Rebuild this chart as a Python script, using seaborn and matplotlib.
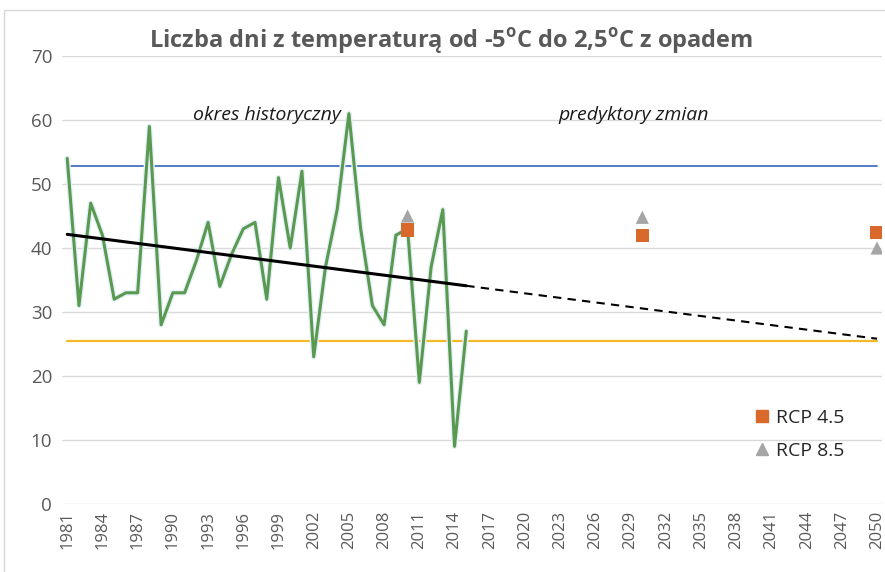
import numpy as np
import pandas as pd
import matplotlib
matplotlib.use("Agg")
import matplotlib.pyplot as plt
import seaborn as sns
from matplotlib.lines import Line2D

# ---- data ----
years_hist = list(range(1981, 2016))
days_hist = [54, 31, 47, 42, 32, 33, 33, 59, 28, 33,
             33, 38, 44, 34, 39, 43, 44, 32, 51, 40,
             52, 23, 37, 46, 61, 43, 31, 28, 42, 43,
             19, 37, 46, 9, 27]
rcp_years = [2010, 2030, 2050]
rcp45 = [42.8, 42.0, 42.4]
rcp85 = [45.0, 44.8, 40.0]
upper_level = 52.8
lower_level = 25.4
tick_years = list(range(1981, 2051, 3))
title = "Liczba dni z temperaturą od -5$^{\\mathregular{o}}$C do 2,5$^{\\mathregular{o}}$C z opadem"

sns.set_theme(style="white")
plt.rcParams['font.family'] = ['Open Sans', 'DejaVu Sans']

fig = plt.figure(figsize=(8.85, 5.72), dpi=100)
ax = fig.add_axes([0.070, 0.119, 0.927, 0.783])

df = pd.DataFrame({"year": years_hist, "days": days_hist})
sns.lineplot(data=df, x="year", y="days", ax=ax, color="#E6F0F8", linewidth=4.2, zorder=3)
sns.lineplot(data=df, x="year", y="days", ax=ax, color="#5A9A50", linewidth=2.2, zorder=4)

# trend line from linear fit
coef = np.polyfit(years_hist, days_hist, 1)
x1 = np.array([years_hist[0], years_hist[-1]])
x2 = np.array([years_hist[-1], 2050])
ax.plot(x1, np.polyval(coef, x1), color="black", lw=2.2, zorder=5)
ax.plot(x2, np.polyval(coef, x2), color="black", lw=1.5, ls=(0, (4, 3)), zorder=5)

ax.plot([1981, 2050], [upper_level, upper_level], color="#4472C4", lw=1.3, zorder=2)
ax.plot([1981, 2050], [lower_level, lower_level], color="#F2BA2A", lw=1.6, zorder=2)

rdf = pd.DataFrame({"year": rcp_years, "r45": rcp45, "r85": rcp85})
sns.scatterplot(data=rdf, x="year", y="r85", ax=ax, marker="^", s=90, color="#A5A5A5",
                edgecolor="none", zorder=6)
sns.scatterplot(data=rdf, x="year", y="r45", ax=ax, marker="s", s=90, color="#D9692A",
                edgecolor="none", zorder=7)

ax.set_xlim(1980.55, 2050.45)
ax.set_ylim(0, 70)
ax.set_yticks(range(0, 71, 10))
ax.set_xticks(tick_years)
ax.set_xticklabels([str(y) for y in tick_years], rotation=90)
ax.tick_params(axis='both', labelsize=12, colors="#595959", length=0, pad=5)
ax.tick_params(axis='y', labelsize=13.5, pad=7)
ax.yaxis.grid(True, color="#D9D9D9", lw=1)
ax.xaxis.grid(False)
for s in ax.spines.values():
    s.set_visible(False)
ax.set_xlabel("")
ax.set_ylabel("")

ax.text(1998.0, 60.8, "okres historyczny", style="italic", fontsize=14, color="#1a1a1a",
        ha="center", va="center")
ax.text(2029.3, 60.8, "predyktory zmian", style="italic", fontsize=14, color="#1a1a1a",
        ha="center", va="center")

fig.text(0.51, 0.928, title, ha="center", va="center", fontsize=17, fontweight="bold",
         color="#595959")

handles = [Line2D([], [], marker="s", ls="none", color="#D9692A", markersize=9),
           Line2D([], [], marker="^", ls="none", color="#A5A5A5", markersize=9)]
ax.legend(handles, ["RCP 4.5", "RCP 8.5"], loc="lower right", bbox_to_anchor=(0.975, 0.06),
          frameon=False, fontsize=14, handletextpad=0.1, labelspacing=0.75, handlelength=1.2,
          labelcolor="#262626")

fig.add_artist(plt.Rectangle((0.004, -0.01), 1.2, 0.993, transform=fig.transFigure,
                             fill=False, edgecolor="#D9D9D9", lw=1))

fig.savefig("out.png", dpi=100)
